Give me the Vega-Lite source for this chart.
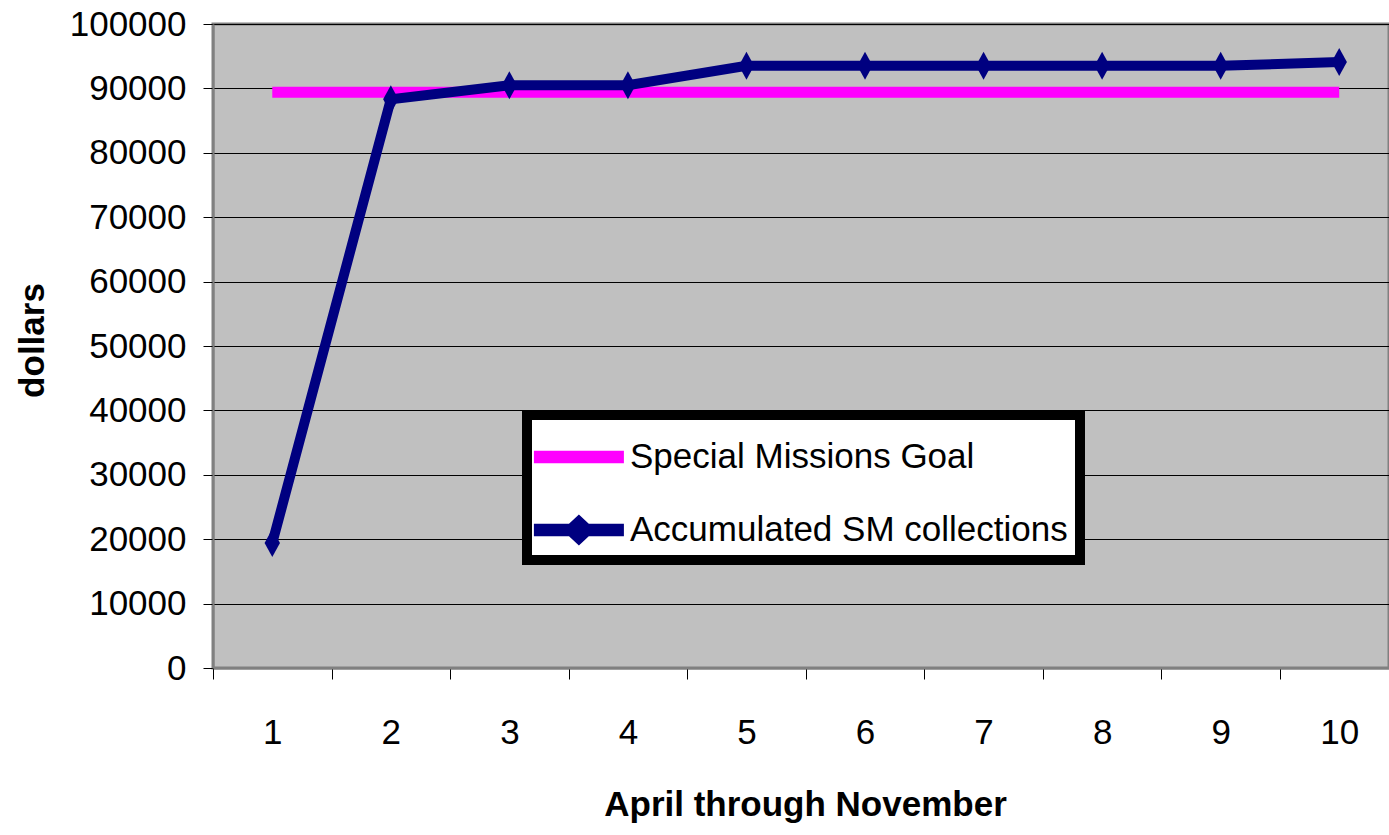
{
  "$schema": "https://vega.github.io/schema/vega-lite/v6.json",
  "width": 1176,
  "height": 644,
  "autosize": {"type": "none"},
  "padding": {"left": 213, "top": 24, "right": 0, "bottom": 167},
  "background": "white",
  "config": {
    "view": {"fill": "#C0C0C0", "stroke": "#808080", "strokeWidth": 3},
    "font": "Liberation Sans"
  },
  "data": {
    "values": [
      {"month": 1, "value": 89400, "series": "Special Missions Goal"},
      {"month": 2, "value": 89400, "series": "Special Missions Goal"},
      {"month": 3, "value": 89400, "series": "Special Missions Goal"},
      {"month": 4, "value": 89400, "series": "Special Missions Goal"},
      {"month": 5, "value": 89400, "series": "Special Missions Goal"},
      {"month": 6, "value": 89400, "series": "Special Missions Goal"},
      {"month": 7, "value": 89400, "series": "Special Missions Goal"},
      {"month": 8, "value": 89400, "series": "Special Missions Goal"},
      {"month": 9, "value": 89400, "series": "Special Missions Goal"},
      {"month": 10, "value": 89400, "series": "Special Missions Goal"},
      {"month": 1, "value": 19400, "series": "Accumulated SM collections"},
      {"month": 2, "value": 88300, "series": "Accumulated SM collections"},
      {"month": 3, "value": 90500, "series": "Accumulated SM collections"},
      {"month": 4, "value": 90500, "series": "Accumulated SM collections"},
      {"month": 5, "value": 93500, "series": "Accumulated SM collections"},
      {"month": 6, "value": 93500, "series": "Accumulated SM collections"},
      {"month": 7, "value": 93500, "series": "Accumulated SM collections"},
      {"month": 8, "value": 93500, "series": "Accumulated SM collections"},
      {"month": 9, "value": 93500, "series": "Accumulated SM collections"},
      {"month": 10, "value": 94100, "series": "Accumulated SM collections"}
    ]
  },
  "encoding": {
    "x": {
      "field": "month",
      "type": "quantitative",
      "scale": {"domain": [0.5, 10.42], "nice": false, "zero": false},
      "axis": {
        "title": "April through November",
        "values": [0.5, 1.5, 2.5, 3.5, 4.5, 5.5, 6.5, 7.5, 8.5, 9.5],
        "labelExpr": "format(datum.value + 0.5, 'd')",
        "labelOffset": 59.3,
        "labelFlush": false,
        "labelOverlap": false,
        "grid": false,
        "tickSize": 11,
        "tickColor": "#000000",
        "tickWidth": 1,
        "domainColor": "#808080",
        "domainWidth": 2,
        "labelFontSize": 35,
        "labelFont": "Liberation Sans",
        "labelColor": "#000000",
        "labelPadding": 36,
        "titleFont": "Liberation Sans",
        "titleFontSize": 35,
        "titleFontWeight": "bold",
        "titleColor": "#000000",
        "titleX": 592,
        "titleY": 147,
        "titleBaseline": "alphabetic"
      }
    },
    "y": {
      "field": "value",
      "type": "quantitative",
      "scale": {"domain": [0, 100000], "nice": false},
      "axis": {
        "title": "dollars",
        "values": [0, 10000, 20000, 30000, 40000, 50000, 60000, 70000, 80000, 90000, 100000],
        "format": "d",
        "labelFlush": false,
        "labelOverlap": false,
        "grid": true,
        "gridColor": "#000000",
        "gridWidth": 1,
        "tickSize": 10,
        "tickColor": "#000000",
        "domainColor": "#808080",
        "domainWidth": 2,
        "labelFontSize": 35,
        "labelFont": "Liberation Sans",
        "labelColor": "#000000",
        "labelPadding": 17,
        "titleFont": "Liberation Sans",
        "titleFontSize": 35,
        "titleFontWeight": "bold",
        "titleColor": "#000000",
        "titleX": -170,
        "titleY": 316,
        "titleBaseline": "alphabetic"
      }
    }
  },
  "layer": [
    {
      "transform": [{"filter": "datum.series === 'Special Missions Goal'"}],
      "mark": {"type": "line", "strokeWidth": 11, "strokeCap": "butt", "clip": true},
      "encoding": {
        "color": {
          "field": "series",
          "type": "nominal",
          "scale": {
            "domain": ["Special Missions Goal", "Accumulated SM collections"],
            "range": ["#FF00FF", "#000080"]
          },
          "legend": {
            "orient": "none",
            "legendX": 314,
            "legendY": 391,
            "title": null,
            "direction": "vertical",
            "fillColor": "#FFFFFF",
            "strokeColor": "#000000",
            "padding": 12,
            "symbolSize": 3600,
            "symbolStrokeWidth": 0,
            "labelFontSize": 35,
            "labelFont": "Liberation Sans",
            "labelColor": "#000000",
            "labelOffset": 31,
            "labelLimit": 1000,
            "rowPadding": 25,
            "encode": {
              "legend": {"update": {"strokeWidth": {"value": 10}}},
              "symbols": {
                "update": {
                  "shape": {"signal": "datum.value === 'Special Missions Goal' ? 'M-1.17,-0.21L1.83,-0.21L1.83,0.21L-1.17,0.21Z' : 'M-1.17,-0.21L0,-0.21L0.33,-0.52L0.66,-0.21L1.83,-0.21L1.83,0.21L0.66,0.21L0.33,0.52L0,0.21L-1.17,0.21Z'"},
                  "fill": {"signal": "datum.value === 'Special Missions Goal' ? '#FF00FF' : '#000080'"},
                  "strokeWidth": {"value": 0},
                  "opacity": {"value": 1}
                }
              }
            }
          }
        }
      }
    },
    {
      "transform": [{"filter": "datum.series === 'Accumulated SM collections'"}],
      "mark": {"type": "line", "strokeWidth": 10, "strokeJoin": "miter", "clip": true},
      "encoding": {
        "color": {"field": "series", "type": "nominal"}
      }
    },
    {
      "transform": [{"filter": "datum.series === 'Accumulated SM collections'"}],
      "mark": {
        "type": "point",
        "shape": "M0,-1L0.55,0L0,1L-0.55,0Z",
        "filled": true,
        "size": 784,
        "color": "#000080",
        "opacity": 1,
        "strokeWidth": 0
      },
      "encoding": {}
    }
  ]
}
